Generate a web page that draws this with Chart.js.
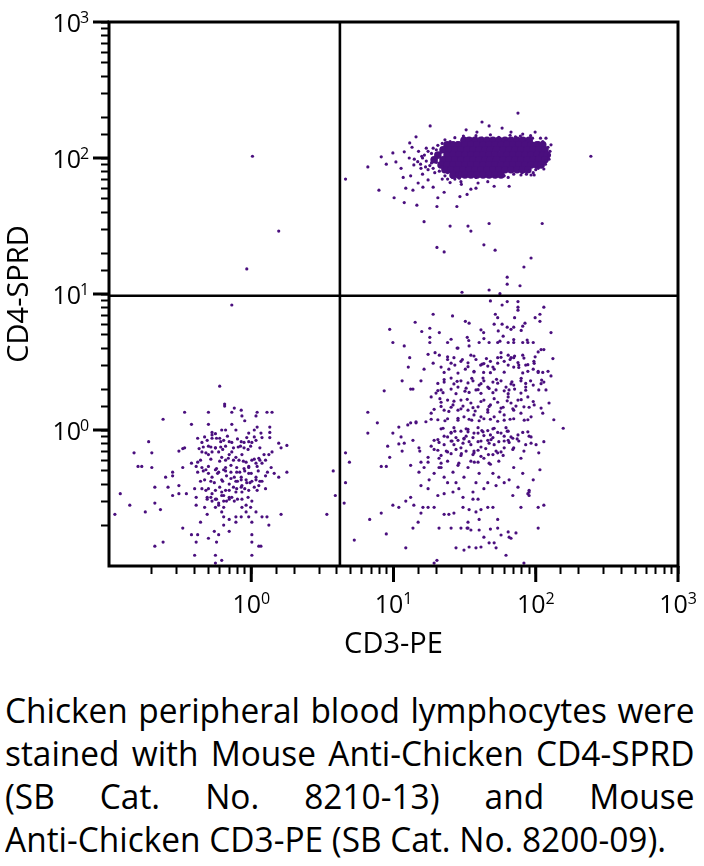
<!DOCTYPE html>
<html>
<head>
<meta charset="utf-8">
<script src="https://cdn.jsdelivr.net/npm/chart.js@4.4.0/dist/chart.umd.min.js"></script>
<style>
  body { margin:0; background:#fff; width:704px; height:866px; overflow:hidden; position:relative; font-family:"Open Sans", sans-serif; }
  #plot { position:absolute; left:0; top:0; }
  #caption { position:absolute; left:5px; top:688px; font-size:35px; line-height:43px; color:#000; }
  #caption div { width:722px; transform:scaleX(0.955); transform-origin:0 0; text-align:justify; text-align-last:justify; }
  #caption div.last { text-align-last:left; }
</style>
</head>
<body>
<canvas id="plot" width="704" height="660"></canvas>
<div id="caption">
  <div>Chicken peripheral blood lymphocytes were</div>
  <div>stained with Mouse Anti-Chicken CD4-SPRD</div>
  <div>(SB Cat. No. 8210-13) and Mouse</div>
  <div class="last">Anti-Chicken CD3-PE (SB Cat. No. 8200-09).</div>
</div>
<script>
// axis range and gates (both axes log, 0.1 .. 1000)
const axisMin = 0.1, axisMax = 1000;
const decadeTicks = [1, 10, 100, 1000];
const decadeExps = ['0', '1', '2', '3'];
const gateCD3 = 4.2;
const gateCD4 = 9.7;
const xTitle = 'CD3-PE';
const yTitle = 'CD4-SPRD';
const dotColor = '#4a0f7e';

// [CD3, CD4]
const doubleNegative = [
  [0.6,2.1],[0.65,1.55],[0.65,1.5],[0.76,1.45],[0.73,1.35],[0.85,1.4],[0.34,1.35],[0.5,1.35],[0.24,1.2],[0.86,1.27],
  [0.9,1.17],[1.08,1.27],[1.29,1.35],[1.4,1.35],[1.1,1.35],[0.38,1.1],[0.5,1.1],[0.62,1.0],[0.66,1.0],[0.73,1.1],
  [0.78,1.0],[0.96,0.95],[1.05,1.0],[1.1,1.05],[1.35,1.05],[1.35,0.96],[1.35,0.88],[1.17,0.95],[0.53,0.96],[0.53,0.92],
  [0.56,0.94],[0.19,0.82],[0.15,0.68],[0.2,0.68],[0.31,0.7],[0.34,0.74],[0.33,0.73],[0.42,0.87],[0.45,0.81],[0.49,0.84],
  [0.53,0.87],[0.57,0.87],[0.61,0.82],[0.64,0.84],[0.7,0.82],[0.73,0.81],[0.85,0.82],[0.89,0.81],[0.96,0.82],[1.01,0.81],
  [1.08,0.84],[1.19,0.88],[1.56,0.8],[1.62,0.74],[1.78,0.77],[1.4,0.69],[1.33,0.66],[1.23,0.66],[0.17,0.54],[0.2,0.53],
  [0.16,0.54],[0.28,0.49],[0.25,0.45],[0.28,0.46],[0.33,0.53],[0.38,0.57],[0.41,0.54],[0.42,0.58],[0.45,0.69],[0.48,0.68],
  [0.5,0.66],[0.53,0.69],[0.56,0.74],[0.59,0.69],[0.62,0.63],[0.66,0.6],[0.7,0.66],[0.73,0.69],[0.78,0.63],[0.82,0.6],
  [0.86,0.66],[0.92,0.58],[0.96,0.54],[1.01,0.6],[1.08,0.57],[1.13,0.62],[1.19,0.57],[1.26,0.6],[1.38,0.53],[1.45,0.48],
  [1.56,0.45],[1.78,0.49],[0.48,0.51],[0.5,0.48],[0.53,0.45],[0.56,0.51],[0.59,0.49],[0.64,0.51],[0.67,0.46],[0.72,0.49],
  [0.76,0.45],[0.79,0.49],[0.85,0.45],[0.86,0.39],[0.92,0.43],[0.96,0.48],[1.01,0.42],[1.08,0.45],[1.13,0.39],[1.19,0.42],
  [1.26,0.46],[0.12,0.34],[0.14,0.28],[0.11,0.24],[0.21,0.38],[0.21,0.29],[0.18,0.25],[0.23,0.26],[0.26,0.38],[0.28,0.33],
  [0.31,0.34],[0.31,0.39],[0.35,0.34],[0.4,0.37],[0.41,0.32],[0.41,0.28],[0.47,0.27],[0.49,0.32],[0.53,0.34],[0.56,0.31],
  [0.59,0.29],[0.64,0.33],[0.67,0.3],[0.73,0.32],[0.78,0.35],[0.85,0.38],[0.62,0.25],[0.64,0.23],[0.7,0.22],[0.78,0.23],
  [0.85,0.23],[0.92,0.25],[0.96,0.23],[1.08,0.25],[1.19,0.23],[1.29,0.23],[1.01,0.21],[0.33,0.19],[0.44,0.21],[0.49,0.24],
  [0.55,0.18],[0.64,0.2],[0.7,0.18],[0.78,0.21],[0.38,0.17],[0.42,0.17],[0.5,0.16],[0.59,0.17],[1.01,0.17],[1.01,0.15],
  [1.13,0.14],[1.17,0.14],[0.21,0.14],[0.24,0.15],[0.41,0.15],[0.57,0.15],[0.4,0.12],[0.56,0.12],[0.62,0.11],[0.56,0.105],
  [1.01,0.12],[1.62,0.24],[1.33,0.2],[3.77,0.5],[3.9,0.33],[3.4,0.24],
  [0.46,0.75],[0.5,0.76],[0.56,0.74],[0.61,0.75],[0.66,0.76],[0.81,0.75],[0.89,0.74],[0.99,0.76],
  [0.45,0.53],[0.5,0.54],[0.57,0.52],[0.66,0.53],[0.72,0.55],[0.79,0.53],[0.89,0.52],[0.96,0.53],[1.1,0.54],
  [0.47,0.43],[0.52,0.42],[0.62,0.43],[0.72,0.44],[0.78,0.42],[0.85,0.43],[0.93,0.41],[1.08,0.43],
  [0.48,0.36],[0.5,0.37],[0.56,0.36],[0.62,0.35],[0.7,0.36],[0.79,0.37],[0.86,0.35],[0.96,0.36],[1.1,0.36],[1.26,0.37],
  [0.49,0.31],[0.53,0.3],[0.57,0.31],[0.64,0.3],[0.7,0.31],[0.76,0.3],[0.86,0.31],[1.01,0.3],
  [0.56,0.27],[0.59,0.28],[0.64,0.27],[0.86,0.27],[0.92,0.28],[0.99,0.27],
  [0.47,0.89],[0.6,0.87],[0.68,0.9],[0.8,0.86],[0.93,0.88],[1.05,0.89],
  [0.43,0.73],[0.52,0.75],[0.63,0.72],[0.75,0.74],[0.84,0.76],[0.95,0.72],[1.15,0.74],
  [0.44,0.6],[0.52,0.61],[0.6,0.59],[0.69,0.62],[0.75,0.6],[0.88,0.59],[1.05,0.61],[1.15,0.6],
  [0.42,0.49],[0.46,0.5],[0.58,0.48],[0.66,0.5],[0.83,0.49],[0.9,0.5],[1.0,0.48],[1.12,0.5],[1.3,0.49],
  [0.44,0.42],[0.55,0.41],[0.63,0.42],[0.7,0.4],[0.8,0.42],[0.98,0.41],[1.15,0.42],
  [0.45,0.37],[0.6,0.38],[0.66,0.36],[0.75,0.38],[0.9,0.37],[1.05,0.38],
  [0.52,0.32],[0.62,0.33],[0.7,0.32],[0.8,0.31],[0.95,0.32]
];

const cd3Single = [
  [48,8.9],[58,8.3],[63,8.8],[75,8.8],[75,8.0],[75,7.6],[114,8.0],[107,7.1],[99,6.7],[107,6.3],
  [19,7.1],[26,6.9],[32,6.3],[34,6.1],[52,7.1],[54,6.7],[71,6.7],[51,6.0],[58,6.0],[63,5.7],[70,5.7],[84,6.1],[81,5.8],
  [9.4,5.5],[14.2,6.2],[15.8,5.3],[9.9,4.4],[11.9,4.15],[18,5.6],[18,4.8],[18,4.4],[21,5.2],[24,4.4],[28,4.0],[33,4.8],
  [34,4.15],[40,4.4],[43,5.2],[47,4.4],[54,4.4],[59,4.9],[64,4.4],[70,4.4],[81,4.4],[88,4.4],[96,4.4],[128,5.2],
  [13,3.4],[12.7,2.9],[11.5,2.3],[8.6,1.94],[13.2,2.0],[13.7,2.0],[16.4,2.8],[19,3.1],[17.5,3.6],[19.6,3.7],[21,3.55],
  [24,3.3],[24.5,2.8],[26.6,3.4],[28.4,4.0],[29.8,3.2],[32,2.8],[35,3.55],[36.8,2.7],[38,3.3],[41,3.0],[43,2.65],[46,2.95],
  [48,3.2],[51,2.8],[54,3.4],[57,3.7],[60,3.2],[64,3.55],[67,3.4],[70,3.4],[70,2.9],[76,3.0],[81,3.55],[85,3.0],[88,2.7],
  [97,3.2],[104,3.75],[109,3.9],[114,3.9],[122,2.7],[128,2.5],[132,3.35],[96,2.8],[104,2.7],[112,2.65],
  [6.6,1.35],[7.7,1.13],[10.9,1.05],[12.6,1.09],[13.2,1.13],[14.4,1.13],[16.9,1.15],[18.4,1.33],[18.4,1.75],[19.9,1.87],
  [21.6,1.6],[22.7,1.4],[24,1.66],[26.2,1.53],[28.4,1.4],[29.8,1.66],[31.3,1.25],[33.4,1.4],[35,1.58],[36.8,1.29],
  [39.3,1.48],[41.2,1.25],[43.2,1.66],[46,1.35],[48,1.53],[51,1.25],[54,1.6],[57,1.45],[60,1.29],[64,1.75],[67,1.58],
  [70,1.4],[75,1.66],[78.7,1.33],[82.6,1.48],[88,1.75],[92.7,1.25],[97.5,1.53],[109,1.45],[112,1.33],[118,1.97],[124,1.58],
  [134,1.19],[156,1.03],[22.7,2.25],[25.4,2.41],[28.4,2.07],[29.8,2.3],[32.4,2.03],[36.2,2.3],[38,1.97],[40,2.14],
  [42.6,2.41],[46,2.07],[50,2.25],[52.6,1.97],[57,2.3],[61.8,2.07],[64.9,1.97],[70,2.14],[78.7,2.3],[85,2.07],[96,2.14],
  [105,1.97],[114,2.25],[21.6,1.97],[15.6,2.3],[14.4,1.15],
  [6.6,0.95],[9.9,0.95],[11.3,0.89],[10.9,0.79],[11.9,0.8],[13.7,0.84],[9.1,0.76],[4.6,0.68],[4.9,0.58],[4.6,0.41],
  [4.5,0.29],[8.2,0.54],[8.9,0.54],[9.4,0.63],[11.5,0.7],[13.2,0.55],[15.1,0.74],[15.3,0.7],[15.6,0.58],[16.4,0.53],
  [17.5,0.63],[18.4,0.76],[19.3,0.84],[20.5,0.71],[20.9,0.62],[21.6,0.53],[22.7,0.78],[24,0.89],[25.4,0.95],[26.6,0.78],
  [28.4,0.84],[29.8,0.74],[31.3,0.87],[33.4,0.97],[35,0.78],[36.8,0.68],[39.3,0.95],[41.2,0.75],[43.2,0.62],[46,0.84],
  [48,0.92],[51,0.78],[54,0.68],[57,0.95],[60,0.74],[64,0.84],[67,0.89],[70,0.74],[75,0.92],[78.7,0.62],[85,0.78],
  [92.7,0.89],[100.5,0.78],[105,0.68],[114,0.82],[15.1,0.49],[17.8,0.43],[19.3,0.48],[20.9,0.53],[22.7,0.45],[24,0.41],
  [26.2,0.49],[27.5,0.41],[28.8,0.37],[31.3,0.45],[33.4,0.53],[36.2,0.35],[38,0.41],[40,0.48],[43.2,0.37],[46,0.41],
  [50,0.48],[52.6,0.39],[55,0.45],[60,0.41],[65,0.43],[70,0.53],[75,0.38],[81,0.48],[89.8,0.35],[96,0.43],[107,0.51],
  [13.2,0.32],[15.6,0.39],[17.5,0.37],[20.5,0.33],[22.7,0.34],[26.2,0.35],[30.8,0.32],[36.2,0.31],[39.3,0.31],[41.2,0.26],
  [34,0.26],[30.8,0.27],[26.6,0.245],[24.5,0.24],[22.7,0.24],[19.3,0.27],[17.5,0.27],[15.6,0.245],[16.1,0.27],[13.9,0.28],
  [12.2,0.3],[10.9,0.27],[9.9,0.28],[8.2,0.245],[6.8,0.22],[13.7,0.19],[14.9,0.21],[20.9,0.19],[25.4,0.19],[29.8,0.19],
  [33.4,0.19],[33.4,0.21],[38,0.25],[40,0.22],[46,0.27],[50,0.27],[54,0.22],[54,0.19],[64,0.178],[65,0.163],[57,0.169],
  [48,0.187],[43.2,0.163],[40,0.184],[35,0.184],[32.9,0.19],[41.2,0.138],[38,0.136],[34,0.138],[31.3,0.131],[27.5,0.136],
  [51,0.148],[52.6,0.136],[47,0.148],[61.8,0.12],[67,0.16],[72.6,0.175],[78.7,0.27],[88,0.34],[89.8,0.33],[104,0.27],
  [114,0.28],[104,0.19],[82.6,0.105],[12.2,0.136],[8.9,0.172],[5.3,0.155],[20.2,0.11],[19.3,0.105],[69,0.33],[89.8,0.36],
  [24,3.45],[30.5,3.3],[36.8,3.5],[45,3.35],[57,3.42],[66,3.3],[71,3.5],[82.6,3.38],[99,3.45],
  [21.6,2.9],[27,3.0],[33.4,2.92],[42,3.05],[50,2.9],[64,3.0],[76,2.88],[88,3.02],
  [22.7,2.35],[28,2.28],[35.5,2.4],[43.2,2.3],[53,2.36],[68,2.26],[79,2.4],[92,2.3],[110,2.33],
  [20.5,1.95],[25.4,2.0],[31.8,1.93],[39.3,1.98],[47,2.02],[60,1.94],[71,2.0],[85,1.96],
  [21.2,1.7],[26.6,1.63],[33,1.68],[41.2,1.62],[51,1.7],[63,1.64],[79,1.67],[96,1.62],
  [19.3,1.42],[24.5,1.37],[29.8,1.43],[37.5,1.38],[46,1.41],[56,1.36],[69,1.43],
  [18.4,1.2],[23,1.17],[28.4,1.22],[35.5,1.18],[43.2,1.21],[54,1.16],[66,1.2],[83,1.18],
  [21.6,1.02],[27,0.98],[33.4,1.01],[41.8,0.99],[51,1.03],[63,0.98],
  [20.5,0.85],[25.8,0.83],[31.3,0.86],[39.3,0.82],[48.5,0.85],[60,0.83],[74,0.86],
  [24,0.69],[30,0.67],[36.8,0.7],[46.5,0.66],[57,0.69],
  [21.6,0.57],[28.4,0.55],[37,0.58],[48,0.56],
  [25.4,4.65],[33.8,4.55],[43.2,4.7],[56,4.5],[70,4.62],[87,4.58],
  [41.2,5.45],[54.5,5.35],[67,5.5],[79,5.4],
  [25.4,0.96],[29.8,0.98],[36.8,0.95],[42.6,0.97],[46,0.99],[54,0.96],[64,0.98],[81,0.96],[88,0.97],
  [22.7,0.9],[27.5,0.88],[32.4,0.9],[36.2,0.88],[43.2,0.91],[50,0.88],[60,0.9],[69,0.87],[89.8,0.9],
  [20.9,0.81],[25.4,0.83],[30.8,0.8],[34,0.82],[41.2,0.83],[47,0.8],[55,0.82],[65,0.81],[76,0.83],[92.7,0.8],
  [19.3,0.72],[23.5,0.7],[27.5,0.72],[32.4,0.7],[39.3,0.71],[44.5,0.73],[52.6,0.7],[69,0.72],[82.6,0.7],
  [21.6,0.65],[25.4,0.67],[29.8,0.65],[36.2,0.66],[41.2,0.64],[50,0.66],[59,0.65],
  [17.5,0.58],[24,0.59],[28.8,0.57],[35,0.59],[39.3,0.58],[47,0.57],[55,0.59],
  [22.3,1.88],[27.5,1.85],[34,1.89],[41.2,1.86],[50,1.88],[64,1.85],[78.7,1.87],
  [21.6,1.49],[25.4,1.47],[30.8,1.5],[36.2,1.46],[47,1.49],[59,1.47],[72.6,1.5],[89.8,1.47],
  [20.5,1.19],[24,1.21],[28.4,1.18],[34,1.2],[40,1.17],[48,1.2],[60,1.18],[70,1.21],[88,1.19],
  [22.3,1.03],[26.6,1.04],[32.4,1.02],[39.3,1.04],[50,1.02],[61.8,1.04],
  [25.4,3.1],[33.4,3.12],[43.2,3.08],[54,3.1],[75,3.13],[97.5,3.09],
  [22.7,2.65],[28.4,2.62],[36.8,2.67],[48,2.64],[60,2.66],[81,2.63],[104,2.65],
  [20.5,2.2],[26.6,2.18],[33.4,2.22],[41.2,2.19],[54,2.21],[67,2.18],[85,2.2],[109,2.19]
];

const doublePositive = [
  [75,214],[18.1,172],[41.9,184],[47,172],[58,166],[32.4,161],[38.6,155],[67,155],[81,150],[99,155],[118,140],[128,125],
  [244,103],[13,129],[14.4,143],[11.9,111],[8.2,102],[9.9,109],[10.4,93.5],[8.9,90],[6.6,86],[12.9,100],[13.9,89],
  [15.6,84],[11.3,84],[13.2,74],[11.7,72],[17.5,69],[14.9,65.5],[12.2,60],[13.7,58],[16.1,61],[19,61],[7.9,58],[10.1,51],
  [11.9,47],[14.6,45],[20.5,51],[22.7,56],[20.2,44],[27.9,44],[29.3,52],[32.9,54],[35,59],[38,60],[29.8,67],[39.3,65.5],
  [51,62],[65,62],[97.5,75],[114,83],[92.7,75],[78.7,75],[64,72],[46,67],[16.4,34],[25,31.6],[33.4,31.6],[35,29],[47,33],
  [111,33],[20.2,22],[22.7,20.4],[43.2,23],[51.8,21],[92.7,18.4],[82.6,15.8],[63,13.3],[63,11.8],[77.5,11.5],[30.3,10.3],
  [47,10.7],[56,10.05],
  [13.5,120],[15,112],[16.5,105],[14,98],[17,95],[18.5,108],[15.5,90],[17.5,82],[19.5,78],[16,76],[18,88],[20,115],
  [21,102],[24,78],[22,70],[25,66],[27,70],[30,64],[19,118],[22,128],[25,132],[28,130],[35,138],[42,140],[55,142],
  [62,138],[72,143],[85,138],[95,140],[105,130],[112,132],[125,105],[118,95],[110,88],[100,82],[90,80],[80,78],[70,76],
  [60,74],[52,73],[45,74],[38,72],[32,74],[28,76],
  [16,100],[17.5,112],[18.5,92],[19,84],[16.8,86],[20.5,124],[23,136],[27,141],[31,145],[38,146],[48,148],[66,147],
  [78,145],[92,146],[108,140],[122,120],[126,112],[124,98],[117,90],[104,84],[96,78],[86,76],[23,74],[26,72],[21,80],
  [14.8,94],[15.8,103],[17,118],[21.5,110],[20,93],[22,86],[24,70],[29,71]
];

// solid centre of the CD3+CD4+ cloud, one row per CD4 level
const doublePositiveCore = [
  [31.3,135],[34,135],[37.4,135],[41.2,135],[45.4,135],[50,135],[55,135],[60.8,135],[67,135],[73.8,135],[81,135],[89.8,135],
  [23.8,125],[26.2,125],[28.8,125],[31.8,125],[35,125],[38.6,125],[42.6,125],[47,125],[51.8,125],[57,125],[63,125],
  [69,125],[76,125],[84,125],[92.7,125],[102,125],[112,125],
  [22.3,115],[24.5,115],[27,115],[29.8,115],[32.9,115],[36.2,115],[40,115],[44,115],[48,115],[53,115],[59,115],[65,115],
  [71.5,115],[78.7,115],[87,115],[96,115],[105,115],[116,115],
  [20.5,105],[23.8,105],[26.2,105],[28.8,105],[31.8,105],[35,105],[38.6,105],[42.6,105],[47,105],[51.8,105],[57,105],
  [63,105],[69,105],[76,105],[84,105],[92.7,105],[102,105],[112,105],[120,105],
  [19.3,97],[22.3,97],[24.5,97],[27,97],[29.8,97],[32.9,97],[36.2,97],[40,97],[44,97],[48,97],[53,97],[59,97],[65,97],
  [71.5,97],[78.7,97],[87,97],[96,97],[105,97],[116,97],
  [21.6,89],[23.8,89],[26.2,89],[28.8,89],[31.8,89],[35,89],[38.6,89],[42.6,89],[47,89],[51.8,89],[57,89],[63,89],
  [69,89],[76,89],[84,89],[92.7,89],[102,89],[109,89],
  [23,82],[25.4,82],[28,82],[30.8,82],[34,82],[37.4,82],[41.2,82],[45.4,82],[50,82],[55,82],[60.8,82],[67,82],[73.8,82],
  [81,82],[88,82],
  [26.2,75],[28.8,75],[31.8,75],[35,75],[38.6,75],[42.6,75],[47,75],[51.8,75],[57,75]
];

const strays = [[4.6,70],[1.02,103],[1.56,29],[0.93,15.3],[0.73,8.3]];

const toXY = arr => arr.map(p => ({x: p[0], y: p[1]}));

function dots(data, r, order) {
  return {
    data: toXY(data), order: order,
    pointRadius: r, pointHoverRadius: r, pointBorderWidth: 0,
    pointBackgroundColor: dotColor, backgroundColor: dotColor, borderWidth: 0
  };
}

function gateLine(data) {
  return {
    data: data, showLine: true, order: 0,
    borderColor: '#000', borderWidth: 2.6, pointRadius: 0, pointHoverRadius: 0, fill: false
  };
}

const axisDecor = {
  id: 'axisDecor',
  afterDraw(chart) {
    const ctx = chart.ctx, a = chart.chartArea;
    const xs = chart.scales.x, ys = chart.scales.y;
    ctx.save();
    ctx.strokeStyle = '#000';
    ctx.lineWidth = 3;
    ctx.strokeRect(a.left, a.top, a.right - a.left, a.bottom - a.top);

    // longer marks at the decades
    ctx.beginPath();
    decadeTicks.forEach(v => {
      const px = xs.getPixelForValue(v);
      ctx.moveTo(px, a.bottom); ctx.lineTo(px, a.bottom + 16);
      const py = ys.getPixelForValue(v);
      ctx.moveTo(a.left - 16, py); ctx.lineTo(a.left, py);
    });
    ctx.stroke();

    ctx.fillStyle = '#000';
    const base = '25px "Open Sans"', sup = '16px "Open Sans"';
    decadeTicks.forEach((v, i) => {
      // x axis label
      const px = xs.getPixelForValue(v);
      ctx.font = base;
      const w10 = ctx.measureText('10').width;
      ctx.font = sup;
      const we = ctx.measureText(decadeExps[i]).width;
      const x0 = px - (w10 + we) / 2;
      ctx.textAlign = 'left';
      ctx.textBaseline = 'alphabetic';
      ctx.font = base;
      ctx.fillText('10', x0, a.bottom + 47);
      ctx.font = sup;
      ctx.fillText(decadeExps[i], x0 + w10, a.bottom + 38);

      // y axis label
      const py = ys.getPixelForValue(v);
      ctx.font = base;
      ctx.textAlign = 'right';
      ctx.fillText('10', a.left - 28, py + 10);
      ctx.font = sup;
      ctx.textAlign = 'left';
      ctx.fillText(decadeExps[i], a.left - 29, py + 1);
    });

    ctx.font = '29px "Open Sans"';
    ctx.textAlign = 'center';
    ctx.fillText(xTitle, (a.left + a.right) / 2, 653);
    ctx.translate(28, (a.top + a.bottom) / 2);
    ctx.rotate(-Math.PI / 2);
    ctx.fillText(yTitle, 0, 0);
    ctx.restore();
  }
};

const tickGrid = {
  drawOnChartArea: false,
  drawTicks: true,
  tickLength: 8,
  tickWidth: 2,
  tickColor: c => (c.tick && c.tick.value < 0.11) ? 'rgba(0,0,0,0)' : '#000'
};

new Chart(document.getElementById('plot'), {
  type: 'scatter',
  data: {
    datasets: [
      gateLine([{x: gateCD3, y: axisMin}, {x: gateCD3, y: axisMax}]),
      gateLine([{x: axisMin, y: gateCD4}, {x: axisMax, y: gateCD4}]),
      dots(doubleNegative, 1.6, 1),
      dots(cd3Single, 1.6, 1),
      dots(doublePositive, 1.6, 1),
      dots(strays, 1.6, 1),
      dots(doublePositiveCore, 3.8, 2)
    ]
  },
  options: {
    responsive: false,
    animation: false,
    devicePixelRatio: 1,
    layout: { padding: { left: 101, right: 26, top: 22, bottom: 86 } },
    plugins: { legend: { display: false }, tooltip: { enabled: false } },
    scales: {
      x: {
        type: 'logarithmic', min: axisMin, max: axisMax,
        ticks: { display: false, autoSkip: false },
        grid: tickGrid,
        border: { display: false }
      },
      y: {
        type: 'logarithmic', min: axisMin, max: axisMax,
        ticks: { display: false, autoSkip: false },
        grid: tickGrid,
        border: { display: false }
      }
    }
  },
  plugins: [axisDecor]
});
</script>
</body>
</html>
